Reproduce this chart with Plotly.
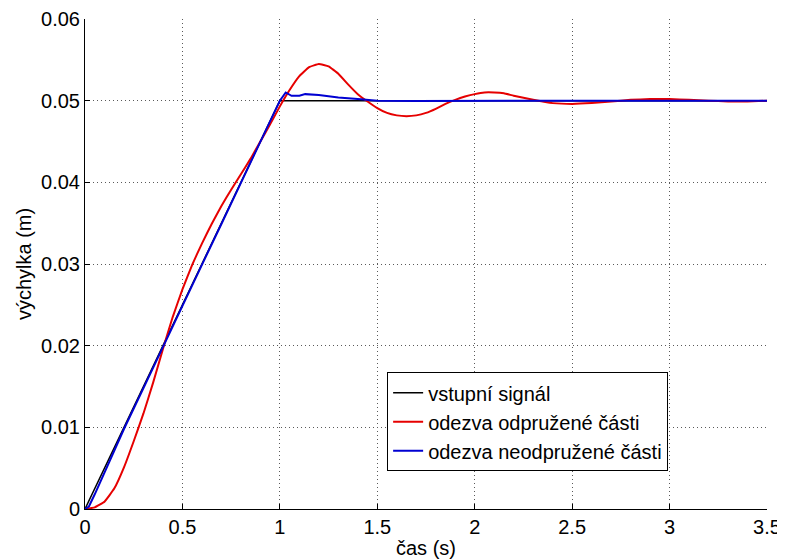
import plotly.graph_objects as go

# ---- data ----
t_input = [0.0, 1.0, 3.5]
y_input = [0.0, 0.05, 0.05]

t_sprung = [0.0, 0.05, 0.1, 0.15, 0.2, 0.25, 0.3, 0.35, 0.4, 0.45, 0.5, 0.55, 0.6, 0.65,
            0.7, 0.75, 0.8, 0.85, 0.9, 0.95, 1.0, 1.05, 1.1, 1.15, 1.2, 1.25, 1.3, 1.35,
            1.4, 1.45, 1.5, 1.55, 1.6, 1.65, 1.7, 1.75, 1.8, 1.85, 1.9, 1.95, 2.0, 2.05,
            2.1, 2.15, 2.2, 2.3, 2.4, 2.5, 2.6, 2.7, 2.8, 2.9, 3.0, 3.1, 3.2, 3.3, 3.4, 3.5]
y_sprung = [0.0, 0.0002, 0.0009, 0.0025, 0.0051, 0.0083, 0.0117, 0.0155, 0.0196, 0.0235,
            0.0269, 0.0299, 0.0325, 0.0349, 0.0371, 0.0391, 0.0410, 0.0429, 0.0450, 0.0471,
            0.0493, 0.0513, 0.0530, 0.0541, 0.0545, 0.0542, 0.0533, 0.0520, 0.0508, 0.0499,
            0.0491, 0.0485, 0.0482, 0.0481, 0.0482, 0.0485, 0.0490, 0.0496, 0.0501, 0.0505,
            0.0508, 0.0510, 0.0510, 0.0509, 0.0506, 0.0501, 0.0497, 0.0496, 0.0497, 0.0499,
            0.0501, 0.0502, 0.0502, 0.0501, 0.0500, 0.0499, 0.0499, 0.0500]

t_unsprung = [0.0, 0.02, 0.05, 0.1, 0.15, 0.2, 0.3, 0.4, 0.5, 0.6, 0.7, 0.8, 0.9, 0.95,
              1.0, 1.03, 1.06, 1.1, 1.13, 1.2, 1.3, 1.4, 1.5, 1.7, 2.0, 2.3, 2.6, 3.0, 3.3, 3.5]
y_unsprung = [0.0, 0.0003, 0.0018, 0.0045, 0.0072, 0.0098, 0.0148, 0.0199, 0.0249, 0.0299,
              0.0349, 0.0399, 0.0449, 0.0475, 0.0500, 0.0510, 0.0506, 0.0506, 0.0508, 0.0507,
              0.0504, 0.0502, 0.0500, 0.04995, 0.0500, 0.0500, 0.04998, 0.0500, 0.0500, 0.0500]

x_ticks = [0, 0.5, 1, 1.5, 2, 2.5, 3, 3.5]
x_ticklabels = ["0", "0.5", "1", "1.5", "2", "2.5", "3", "3.5"]
y_ticks = [0, 0.01, 0.02, 0.03, 0.04, 0.05, 0.06]
y_ticklabels = ["0", "0.01", "0.02", "0.03", "0.04", "0.05", "0.06"]

names = ["vstupní signál", "odezva odpružené části", "odezva neodpružené části"]

FONT = "Liberation Sans, Arial, sans-serif"

fig = go.Figure()
fig.add_trace(go.Scatter(x=t_input, y=y_input, mode="lines", name=names[0],
                         line=dict(color="black", width=1.5)))
fig.add_trace(go.Scatter(x=t_sprung, y=y_sprung, mode="lines", name=names[1],
                         line=dict(color="rgb(230,0,0)", width=2, shape="spline", smoothing=0.3)))
fig.add_trace(go.Scatter(x=t_unsprung, y=y_unsprung, mode="lines", name=names[2],
                         line=dict(color="rgb(0,0,210)", width=2)))

axis_common = dict(
    showline=True, linecolor="black", linewidth=1, mirror=False,
    ticks="inside", ticklen=5, tickcolor="black",
    showgrid=True, gridcolor="rgb(90,90,90)", griddash="1px,3px", gridwidth=1,
    zeroline=False, automargin=False,
    tickfont=dict(family=FONT, size=20, color="black"),
)

fig.update_xaxes(range=[0, 3.5], tickvals=x_ticks, ticktext=x_ticklabels,
                 title=dict(text="čas (s)", font=dict(family=FONT, size=20, color="black"), standoff=4),
                 **axis_common)
fig.update_yaxes(range=[0, 0.06], tickvals=y_ticks, ticktext=y_ticklabels,
                 title=dict(text="výchylka (m)", font=dict(family=FONT, size=20, color="black"), standoff=4),
                 **axis_common)

# page body has an 8px margin, so the figure is 8px smaller and shifted
fig.update_layout(
    width=777, height=551,
    margin=dict(l=77, r=18, t=11, b=50),
    paper_bgcolor="white", plot_bgcolor="white",
    font=dict(family=FONT, size=20, color="black"),
    legend=dict(x=0.443, y=0.279, xanchor="left", yanchor="top",
                bgcolor="white", bordercolor="black", borderwidth=1,
                font=dict(family=FONT, size=20, color="black"),
                tracegroupgap=0, itemwidth=30),
    showlegend=True,
)

fig.write_html("out.html")
